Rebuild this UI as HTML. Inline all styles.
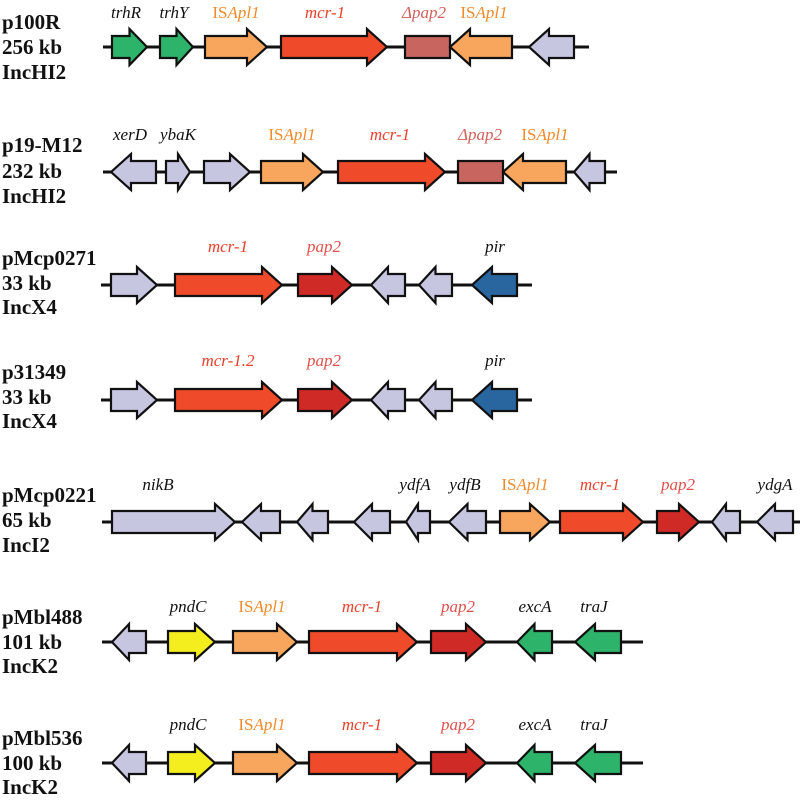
<!DOCTYPE html>
<html><head><meta charset="utf-8"><style>
html,body{margin:0;padding:0;background:#fff;}
svg{display:block}
.n{font-family:"Liberation Serif",serif;font-weight:bold;font-size:21px;fill:#111}
.g{font-family:"Liberation Serif",serif;font-style:italic;font-size:17px;text-anchor:middle}
</style></head><body>
<svg id="s" width="800" height="801" viewBox="0 0 800 801" xmlns="http://www.w3.org/2000/svg">
<g id="shapes"></g>
<text class="n" x="2" y="29">p100R</text><text class="n" x="2" y="54">256 kb</text><text class="n" x="2" y="79">IncHI2</text>
<text class="n" x="2" y="152">p19-M12</text><text class="n" x="2" y="178">232 kb</text><text class="n" x="2" y="203">IncHI2</text>
<text class="n" x="2" y="265">pMcp0271</text><text class="n" x="2" y="290">33 kb</text><text class="n" x="2" y="314">IncX4</text>
<text class="n" x="2" y="379">p31349</text><text class="n" x="2" y="404">33 kb</text><text class="n" x="2" y="428">IncX4</text>
<text class="n" x="2" y="502">pMcp0221</text><text class="n" x="2" y="527">65 kb</text><text class="n" x="2" y="552">IncI2</text>
<text class="n" x="2" y="624">pMbl488</text><text class="n" x="2" y="649">101 kb</text><text class="n" x="2" y="673">IncK2</text>
<text class="n" x="2" y="745">pMbl536</text><text class="n" x="2" y="770">100 kb</text><text class="n" x="2" y="794">IncK2</text>
<g class="g">
<text x="126" y="18" fill="#111">trhR</text><text x="174" y="18" fill="#111">trhY</text>
<text x="236" y="18" fill="#f08a2c"><tspan font-style="normal">IS</tspan>Apl1</text>
<text x="325" y="18" fill="#e8402a">mcr-1</text>
<text x="424" y="18" fill="#d0605a">Δpap2</text>
<text x="484" y="18" fill="#f08a2c"><tspan font-style="normal">IS</tspan>Apl1</text>

<text x="130" y="140" fill="#111">xerD</text><text x="178" y="140" fill="#111">ybaK</text>
<text x="292" y="140" fill="#f08a2c"><tspan font-style="normal">IS</tspan>Apl1</text>
<text x="390" y="140" fill="#e8402a">mcr-1</text>
<text x="480" y="140" fill="#d0605a">Δpap2</text>
<text x="545" y="140" fill="#f08a2c"><tspan font-style="normal">IS</tspan>Apl1</text>

<text x="228" y="252" fill="#e8402a">mcr-1</text><text x="324" y="252" fill="#e0504a">pap2</text><text x="495" y="252" fill="#111">pir</text>
<text x="228" y="366" fill="#e8402a">mcr-1.2</text><text x="324" y="366" fill="#e0504a">pap2</text><text x="495" y="366" fill="#111">pir</text>

<text x="158" y="490" fill="#111">nikB</text><text x="415" y="490" fill="#111">ydfA</text><text x="465" y="490" fill="#111">ydfB</text>
<text x="525" y="490" fill="#f08a2c"><tspan font-style="normal">IS</tspan>Apl1</text>
<text x="600" y="490" fill="#e8402a">mcr-1</text><text x="678" y="490" fill="#e0504a">pap2</text><text x="775" y="490" fill="#111">ydgA</text>

<text x="188" y="612" fill="#111">pndC</text>
<text x="262" y="612" fill="#f08a2c"><tspan font-style="normal">IS</tspan>Apl1</text>
<text x="362" y="612" fill="#e8402a">mcr-1</text><text x="458" y="612" fill="#e0504a">pap2</text>
<text x="535" y="612" fill="#111">excA</text><text x="594" y="612" fill="#111">traJ</text>

<text x="188" y="730" fill="#111">pndC</text>
<text x="262" y="730" fill="#f08a2c"><tspan font-style="normal">IS</tspan>Apl1</text>
<text x="362" y="730" fill="#e8402a">mcr-1</text><text x="458" y="730" fill="#e0504a">pap2</text>
<text x="535" y="730" fill="#111">excA</text><text x="594" y="730" fill="#111">traJ</text>
</g>
</svg>
<script>
var C={G:"#2db36a",O:"#f8a65e",R:"#ef4a2a",P:"#c9655f",L:"#c7c6e0",D:"#d02a26",Y:"#f4ee1e",B:"#2966a0"};
var rows=[
 [47,103,589,[[112,147,'G',1],[160,193,'G',1],[205,267,'O',1],[281,387,'R',1],[405,450,'P',0],[450,512,'O',-1],[529,574,'L',-1]]],
 [172,103,617,[[111,156,'L',-1],[166,190,'L',1],[204,250,'L',1],[261,323,'O',1],[338,445,'R',1],[458,503,'P',0],[503,566,'O',-1],[574,605,'L',-1]]],
 [285,101,532,[[111,157,'L',1],[175,282,'R',1],[298,352,'D',1],[371,405,'L',-1],[419,452,'L',-1],[472,517,'B',-1]]],
 [400,101,532,[[111,157,'L',1],[175,282,'R',1],[298,352,'D',1],[371,405,'L',-1],[419,452,'L',-1],[472,517,'B',-1]]],
 [522,102,800,[[112,235,'L',1],[242,280,'L',-1],[297,328,'L',-1],[354,390,'L',-1],[406,430,'L',-1],[449,486,'L',-1],[500,550,'O',1],[560,643,'R',1],[657,699,'D',1],[712,740,'L',-1],[757,793,'L',-1]]],
 [642,102,643,[[112,146,'L',-1],[168,215,'Y',1],[233,297,'O',1],[309,417,'R',1],[431,486,'D',1],[517,552,'G',-1],[575,621,'G',-1]]],
 [763,102,643,[[112,146,'L',-1],[168,215,'Y',1],[233,297,'O',1],[309,417,'R',1],[431,486,'D',1],[517,552,'G',-1],[575,621,'G',-1]]]
];
var h="";
rows.forEach(function(r){
 var y=r[0];
 h+='<line x1="'+r[1]+'" y1="'+y+'" x2="'+r[2]+'" y2="'+y+'" stroke="#111" stroke-width="3"/>';
 r[3].forEach(function(g){
  var a=g[0],b=g[1],c=C[g[2]],d=g[3],s=11,H=18,hl=Math.min(20,(b-a)*0.5);
  var p;
  if(d==0){p=[[a,y-s],[b,y-s],[b,y+s],[a,y+s]];}
  else if(d==1){p=[[a,y-s],[b-hl,y-s],[b-hl,y-H],[b,y],[b-hl,y+H],[b-hl,y+s],[a,y+s]];}
  else {p=[[b,y-s],[a+hl,y-s],[a+hl,y-H],[a,y],[a+hl,y+H],[a+hl,y+s],[b,y+s]];}
  h+='<polygon points="'+p.map(function(q){return q.join(',')}).join(' ')+'" fill="'+c+'" stroke="#111" stroke-width="2.2" stroke-linejoin="miter"/>';
 });
});
document.getElementById('shapes').innerHTML=h;
</script>
</body></html>
